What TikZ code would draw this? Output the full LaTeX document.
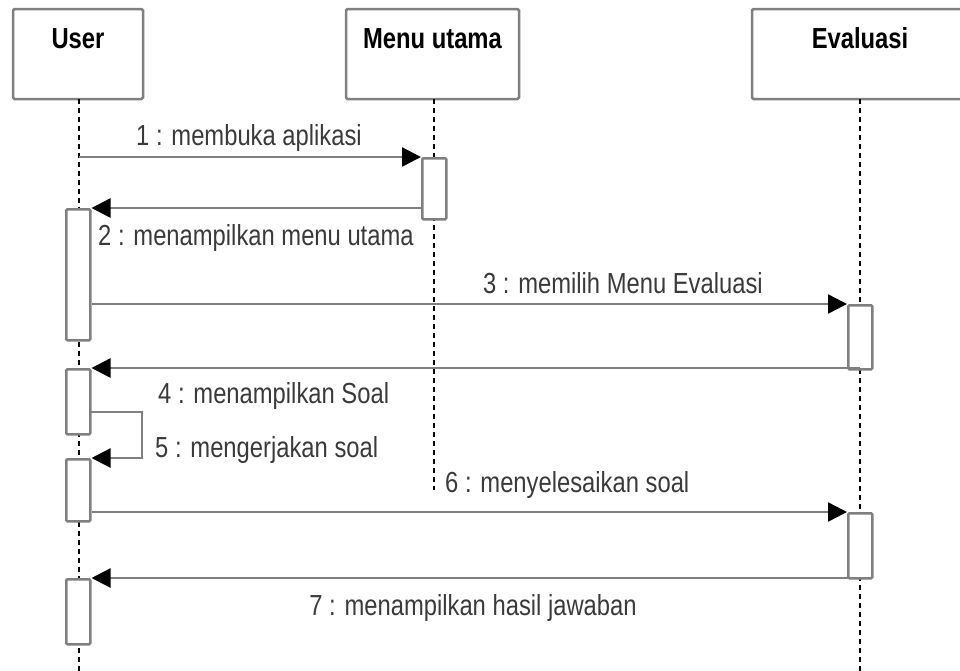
\documentclass[tikz,border=0pt]{standalone}
\usepackage{fontspec}
\usetikzlibrary{arrows.meta}
\newfontfamily\labelfont{Liberation Sans}[FakeStretch=0.82]
\definecolor{linegray}{HTML}{808080}
\definecolor{textgray}{HTML}{3A3A3A}
\begin{document}
\begin{tikzpicture}[x=1pt,y=-1pt,
  objbox/.style={draw=linegray, line width=2.5pt, fill=white, rounded corners=1.5pt},
  title/.style={inner sep=0pt, anchor=base, text=black, font=\labelfont\bfseries\fontsize{29}{34}\selectfont},
  lifeline/.style={draw=black, line width=1.6pt, dash pattern=on 5pt off 4pt},
  actbar/.style={draw=linegray, line width=2.5pt, fill=white, rounded corners=1.2pt,
    minimum width=24pt, inner sep=0pt, anchor=north west},
  msg/.style={draw=linegray, line width=2.5pt,
    -{Triangle[length=19pt,width=19pt,color=black,fill=black]}},
  lbl/.style={inner sep=0pt, text=textgray, font=\labelfont\fontsize{29}{34}\selectfont}]
\useasboundingbox (0,0) rectangle (960,670);
\clip (0,0) rectangle (960,670);

% object heads
\draw[objbox] (13,9) rectangle (143,99);
\draw[objbox] (346,9) rectangle (519,99);
\draw[objbox] (752,9) rectangle (968,99);
\node[title] (tUser) at (78,48) {User};
\node[title] (tMenu) at (432.5,48) {Menu utama};
\node[title] (tEval) at (860,48) {Evaluasi};

% lifelines
\coordinate (uTop) at (79,99);  \coordinate (uEnd) at (79,672);
\coordinate (mTop) at (434,99); \coordinate (mEnd) at (434,490);
\coordinate (eTop) at (860,99); \coordinate (eEnd) at (860,672);
\draw[lifeline] (uTop) -- (uEnd);
\draw[lifeline] (mTop) -- (mEnd);
\draw[lifeline] (eTop) -- (eEnd);

% activation bars
\node[actbar, minimum height=61pt]  (ma)  at (421,157) {};
\node[actbar, minimum height=131pt] (ua1) at (65,208) {};
\node[actbar, minimum height=64pt]  (ea1) at (847,304) {};
\node[actbar, minimum height=65pt]  (ua2) at (65,368) {};
\node[actbar, minimum height=62pt]  (ua3) at (65,458) {};
\node[actbar, minimum height=65pt]  (ea2) at (847,512) {};
\node[actbar, minimum height=65pt]  (ua4) at (65,578) {};

% messages
\coordinate (m1s) at (79,157);
\draw[msg] (m1s) -- (ma.north west);
\draw[msg] (ma.west |- ua1.north) -- (ua1.north east);
\draw[msg] (ua1.east |- ea1.north) -- (ea1.north west);
\draw[msg] (860,368) -- (ua2.north east);
\coordinate (m5s) at (89,412);
\draw[msg] (m5s) -- (142,412) |- (ua3.north east);
\draw[msg] (ua3.east |- ea2.north) -- (ea2.north west);
\draw[msg] (860,578) -- (ua4.north east);

% message labels
\node[lbl, anchor=base] (l1) at (249,145) {1 : membuka aplikasi};
\node[lbl, anchor=base west] (l2) at (98,245) {2 : menampilkan menu utama};
\node[lbl, anchor=base east] (l3) at (763,293) {3 : memilih Menu Evaluasi};
\node[lbl, anchor=base west] (l4) at (158,403) {4 : menampilkan Soal};
\node[lbl, anchor=base west] (l5) at (155,457) {5 : mengerjakan soal};
\node[lbl, anchor=base west] (l6) at (445,492) {6 : menyelesaikan soal};
\node[lbl, anchor=base] (l7) at (473,615) {7 : menampilkan hasil jawaban};
\end{tikzpicture}
\end{document}
